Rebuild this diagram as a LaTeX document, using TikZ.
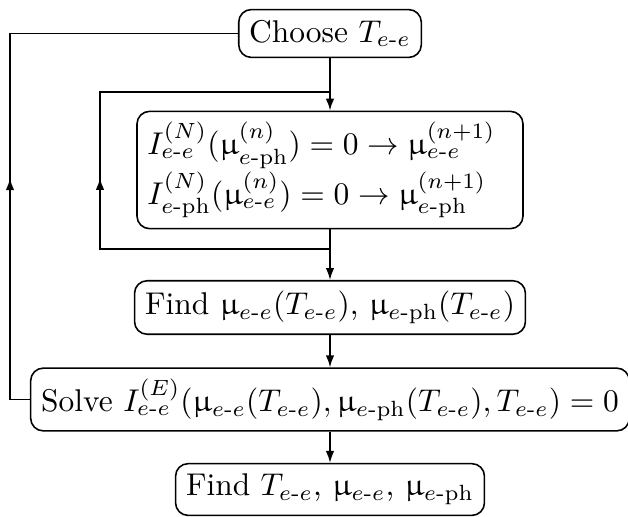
\documentclass[tikz,border=0pt]{standalone}
\usepackage{amsmath}
\usepackage{upgreek}
\usetikzlibrary{arrows.meta,decorations.markings}
\newcommand{\ee}{e\text{-}e}
\newcommand{\eph}{e\text{-ph}}
\tikzset{box/.style={draw, rounded corners, inner sep=3.33pt},
  midarrow/.style={postaction={decorate}, decoration={markings, mark=at position #1 with {\arrow{>}}}}}
\begin{document}
\begin{tikzpicture}[x=0.318pt, y=-0.318pt, >={Latex[length=3.8pt,width=2.7pt]}, line width=0.5pt]
  \useasboundingbox (0,0) rectangle (628,516);
  \node[box] (choose) at (330,33.5) {Choose $T_{\ee}$};
  \node[box, align=left, text width=386*0.318pt-6.66pt] (iter) at (330,170)
    {$I^{(N)}_{\ee}(\upmu^{(n)}_{\eph}) = 0 \to \upmu^{(n+1)}_{\ee}$\\
     $I^{(N)}_{\eph}(\upmu^{(n)}_{\ee}) = 0 \to \upmu^{(n+1)}_{\eph}$};
  \node[box, minimum width=386*0.318pt] (findmu) at (330,307.5) {Find $\upmu_{\ee}(T_{\ee})$, $\upmu_{\eph}(T_{\ee})$};
  \node[box] (solve) at (330,399.5) {Solve $I^{(E)}_{\ee}(\upmu_{\ee}(T_{\ee}), \upmu_{\eph}(T_{\ee}), T_{\ee}) = 0$};
  \node[box] (findT) at (330,489.5) {Find $T_{\ee}$, $\upmu_{\ee}$, $\upmu_{\eph}$};
  % main chain
  \draw[->] (choose) -- (iter);
  \draw[->] (iter) -- (findmu);
  \draw[->] (findmu) -- (solve);
  \draw[->] (solve) -- (findT);
  % inner loop
  \coordinate (ib) at (330,249);
  \coordinate (it) at (330,92);
  \coordinate (il) at (100,178);
  \draw[midarrow=0.488] (ib) -| (il) |- (it);
  % outer loop
  \coordinate (ol) at (10,178);
  \draw[midarrow=0.393] (solve.west) -| (ol) |- (choose.west);
\end{tikzpicture}
\end{document}
